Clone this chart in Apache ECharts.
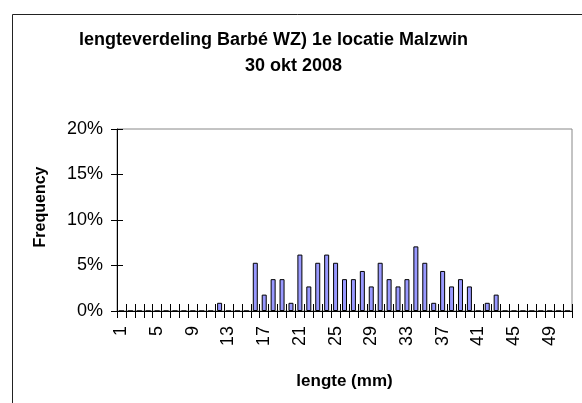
<!DOCTYPE html>
<html>
<head>
<meta charset="utf-8">
<script src="https://cdn.jsdelivr.net/npm/echarts@6/dist/echarts.min.js"></script>
<style>
  html, body { margin: 0; padding: 0; background: #fff; }
  #chart { width: 582px; height: 403px; }
</style>
</head>
<body>
<div id="chart"></div>
<script>
// lengte classes 1..51 (mm)
var lengths = ["1","2","3","4","5","6","7","8","9","10","11","12","13","14","15","16","17",
  "18","19","20","21","22","23","24","25","26","27","28","29","30","31","32","33","34",
  "35","36","37","38","39","40","41","42","43","44","45","46","47","48","49","50","51"];
// frequency in %
var frequency = [0, 0, 0, 0, 0, 0, 0, 0, 0, 0, 0, 0.9, 0, 0, 0, 5.3, 1.8,
  3.5, 3.5, 0.9, 6.2, 2.7, 5.3, 6.2, 5.3, 3.5, 3.5, 4.4, 2.7, 5.3, 3.5, 2.7, 3.5, 7.1,
  5.3, 0.9, 4.4, 2.7, 3.5, 2.7, 0, 0.9, 1.8, 0, 0, 0, 0, 0, 0, 0, 0];
var yTicks = [0, 5, 10, 15, 20];

var font = "'Liberation Sans', Arial, sans-serif";
var chart = echarts.init(document.getElementById("chart"));

var option = {
  animation: false,
  title: [
    {
      text: "lengteverdeling Barbé WZ) 1e locatie Malzwin",
      left: 79, top: 31, padding: 0,
      textStyle: { fontFamily: font, fontSize: 18, fontWeight: "bold", color: "#000", lineHeight: 18 }
    },
    {
      text: "30 okt 2008",
      left: 245, top: 57, padding: 0,
      textStyle: { fontFamily: font, fontSize: 18, fontWeight: "bold", color: "#000", lineHeight: 18 }
    }
  ],
  graphic: [
    {
      type: "rect",
      shape: { x: 12.5, y: 14.5, width: 600, height: 420 },
      style: { fill: "none", stroke: "#222", lineWidth: 1 },
      silent: true
    }
  ],
  grid: {
    left: 117, right: 10, top: 129, bottom: 92,
    show: true, borderColor: "#888", borderWidth: 1, backgroundColor: "transparent"
  },
  xAxis: [
    {
      type: "category",
      data: lengths,
      name: "lengte (mm)",
      nameLocation: "middle",
      nameGap: 62,
      nameTextStyle: { fontFamily: font, fontSize: 17, fontWeight: "bold", color: "#000" },
      axisLine: { lineStyle: { color: "#000", width: 1 } },
      axisTick: { show: true, interval: 0, length: 7, lineStyle: { color: "#000" } },
      axisLabel: { interval: 3, rotate: 90, margin: 15, fontFamily: font, fontSize: 18, color: "#000" },
      splitLine: { show: false }
    },
    {
      type: "category",
      data: lengths,
      position: "bottom",
      axisLine: { show: false },
      axisTick: { show: true, inside: true, interval: 0, length: 7, lineStyle: { color: "#000" } },
      axisLabel: { show: false },
      splitLine: { show: false }
    }
  ],
  yAxis: [
    {
      type: "value",
      min: yTicks[0], max: yTicks[yTicks.length - 1], interval: 5,
      name: "Frequency",
      nameLocation: "middle",
      nameGap: 68,
      nameTextStyle: { fontFamily: font, fontSize: 16, fontWeight: "bold", color: "#000", padding: [0, 0, 0, 26] },
      axisLine: { show: true, lineStyle: { color: "#000", width: 1 } },
      axisTick: { show: true, length: 6, lineStyle: { color: "#000" } },
      axisLabel: { margin: 14, fontFamily: font, fontSize: 18, color: "#000", formatter: "{value}%" },
      splitLine: { show: false }
    },
    {
      type: "value",
      min: yTicks[0], max: yTicks[yTicks.length - 1], interval: 5,
      position: "left",
      axisLine: { show: false },
      axisTick: { show: true, inside: true, length: 6, lineStyle: { color: "#000" } },
      axisLabel: { show: false },
      splitLine: { show: false }
    }
  ],
  series: [
    {
      type: "bar",
      data: frequency,
      xAxisIndex: 0,
      yAxisIndex: 0,
      barWidth: 5,
      itemStyle: { color: "#9999ff", borderColor: "#000", borderWidth: 1 }
    }
  ]
};

chart.setOption(option);
</script>
</body>
</html>
